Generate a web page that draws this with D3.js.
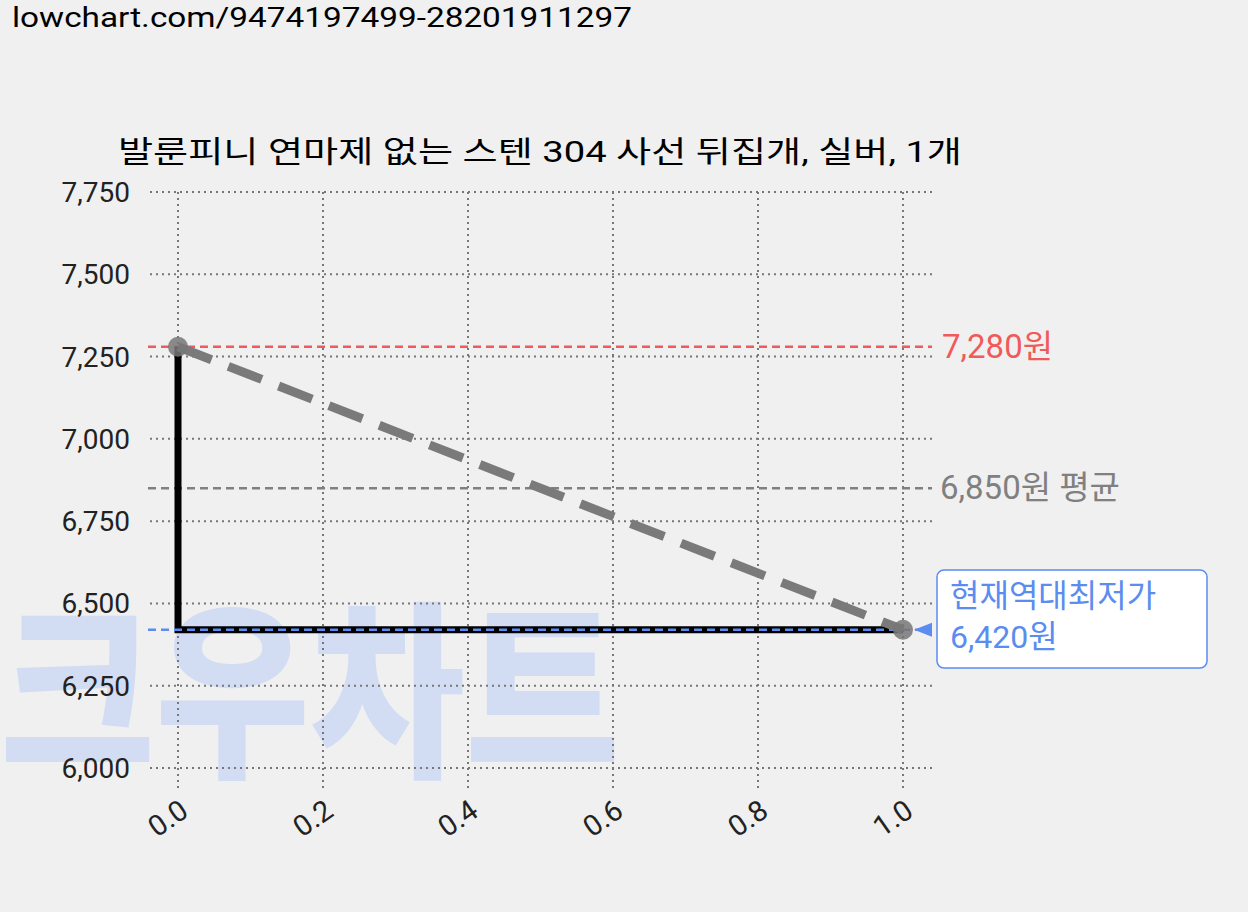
<!DOCTYPE html><html><head><meta charset="utf-8"><script src="https://cdn.jsdelivr.net/npm/d3@7"></script>
<style>body{margin:0;background:#f0f0f0}text{font-family:Roboto,"Noto Sans CJK KR",sans-serif}</style></head><body><svg id="c" width="1248" height="912"></svg><script>
const xs=[0,1];
const prices=[7280,6420];
const xTicks=[0,0.2,0.4,0.6,0.8,1.0];
const yTicks=[6000,6250,6500,6750,7000,7250,7500,7750];
const maxP=7280,avgP=6850,minP=6420;
const title="발룬피니 연마제 없는 스텐 304 사선 뒤집개, 실버, 1개";
const svg=d3.select("#c");
svg.append("rect").attr("width",1248).attr("height",912).attr("fill","#f0f0f0");
const x=d3.scaleLinear().domain([0,1]).range([178,903]);
const y=d3.scaleLinear().domain([6000,7750]).range([768,192]);
svg.append("text").attr("x",12).attr("y",27).attr("font-size",28).attr("textLength",620).attr("lengthAdjust","spacingAndGlyphs").text("lowchart.com/9474197499-28201911297");
svg.append("text").attr("x",118).attr("y",162).attr("font-size",30).attr("textLength",844).attr("lengthAdjust","spacingAndGlyphs").text(title);
// watermark
svg.append("text").attr("x",0).attr("y",762).attr("font-size",190).attr("font-weight",900).attr("fill","#c8d6f5").attr("opacity",0.75).attr("textLength",620).attr("lengthAdjust","spacingAndGlyphs").text("크우차트");
const g=svg.append("g");
yTicks.forEach(t=>{g.append("line").attr("x1",150).attr("x2",932).attr("y1",y(t)).attr("y2",y(t)).attr("stroke","#777").attr("stroke-width",2).attr("stroke-dasharray","2,4");
g.append("text").attr("x",130).attr("y",y(t)+10).attr("text-anchor","end").attr("font-size",28).attr("fill","#222").text(d3.format(",")(t));});
xTicks.forEach(t=>{g.append("line").attr("x1",x(t)).attr("x2",x(t)).attr("y1",192).attr("y2",790).attr("stroke","#777").attr("stroke-width",2).attr("stroke-dasharray","2,4");
g.append("text").attr("transform",`translate(${x(t)+12},${815}) rotate(-35)`).attr("text-anchor","end").attr("font-size",29).attr("fill","#222").text(t.toFixed(1));});
const ref=(v,c,w)=>g.append("line").attr("x1",148).attr("x2",932).attr("y1",y(v)).attr("y2",y(v)).attr("stroke",c).attr("stroke-width",w).attr("stroke-dasharray","8,5");
ref(maxP,"#f05a5a",2.5);ref(avgP,"#808080",2.5);
g.append("path").attr("d",`M${x(xs[0])},${y(prices[0])}V${y(prices[1])}H${x(xs[1])}`).attr("fill","none").attr("stroke","#000").attr("stroke-width",7);
ref(minP,"#5b8cf0",2.5);
g.append("line").attr("x1",x(xs[0])).attr("y1",y(prices[0])).attr("x2",x(xs[1])).attr("y2",y(prices[1])).attr("stroke","#7a7a7a").attr("stroke-width",9).attr("stroke-dasharray","36,18");
xs.forEach((v,i)=>g.append("circle").attr("cx",x(v)).attr("cy",y(prices[i])).attr("r",10).attr("fill","#777").attr("opacity",0.85));
svg.append("text").attr("x",942).attr("y",y(maxP)+11).attr("font-size",33).attr("fill","#f05a5a").text("7,280원");
svg.append("text").attr("x",940).attr("y",y(avgP)+11).attr("font-size",33).attr("fill","#808080").text("6,850원 평균");
svg.append("rect").attr("x",937).attr("y",570).attr("width",270).attr("height",98).attr("rx",7).attr("fill","#fff").attr("stroke","#5b8cf0").attr("stroke-width",1.5);
svg.append("text").attr("x",950).attr("y",607).attr("font-size",32).attr("fill","#5b8cf0").text("현재역대최저가");
svg.append("text").attr("x",950).attr("y",648).attr("font-size",32).attr("fill","#5b8cf0").text("6,420원");
svg.append("path").attr("d",`M914,${y(minP)}l18,-7v14z`).attr("fill","#5b8cf0");
</script></body></html>
